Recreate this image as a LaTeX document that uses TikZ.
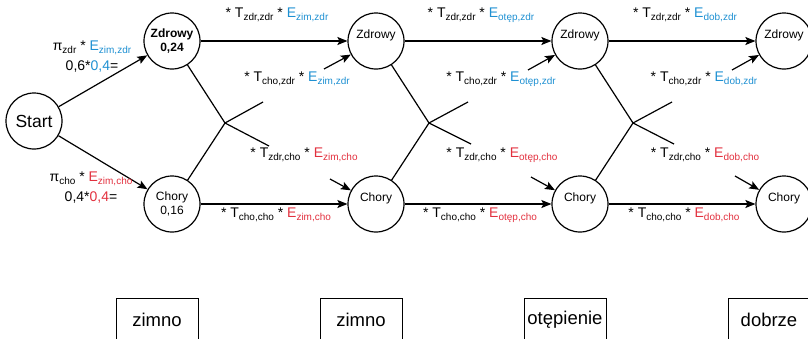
\documentclass[tikz,border=0pt]{standalone}
\usepackage{fontspec}
\setmainfont{Liberation Sans}
\usetikzlibrary{arrows.meta}
\definecolor{eblue}{RGB}{30,144,210}
\definecolor{ered}{RGB}{226,48,62}
\newcommand{\idx}[1]{\raisebox{-3pt}{\fontsize{10}{10}\selectfont #1}}
\newcommand{\Ezd}[1]{\textcolor{eblue}{E\idx{#1,zdr}}}
\newcommand{\Ech}[1]{\textcolor{ered}{E\idx{#1,cho}}}
\tikzset{
  state/.style={circle, draw, line width=1.2pt, minimum size=56pt, inner sep=0pt,
    align=center, font=\fontsize{12}{14}\selectfont},
  obs/.style={rectangle, draw, line width=1pt, minimum width=82pt, minimum height=44pt,
    font=\fontsize{18.5}{20}\selectfont},
  lbl/.style={inner sep=0pt, anchor=base, font=\fontsize{14}{14}\selectfont},
  prior/.style={inner sep=0pt, align=center, font=\fontsize{14}{16}\selectfont},
}

\begin{document}
\begin{tikzpicture}[x=1pt, y=-1pt, line width=1.2pt,
    >={Stealth[length=10pt, width=8pt, inset=2pt]}]
  \def\xsep{204}
  \def\xa{172}
  \def\ytop{41}
  \def\ybot{204}
  \useasboundingbox (0,0) rectangle (808,338);

  \node[state, font=\fontsize{17.5}{19}\selectfont] (start) at (34,121) {Start};

  \node[state, font=\fontsize{12}{14}\selectfont\bfseries] (z1) at ({\xa+0*\xsep}, \ytop) {Zdrowy\\0,24};
  \node[state] (c1) at ({\xa+0*\xsep}, \ybot) {Chory\\0,16};
  \node[state] (z2) at ({\xa+1*\xsep}, \ytop) {Zdrowy\\\phantom{0}};
  \node[state] (c2) at ({\xa+1*\xsep}, \ybot) {Chory\\\phantom{0}};
  \node[state] (z3) at ({\xa+2*\xsep}, \ytop) {Zdrowy\\\phantom{0}};
  \node[state] (c3) at ({\xa+2*\xsep}, \ybot) {Chory\\\phantom{0}};
  \node[state] (z4) at ({\xa+3*\xsep}, \ytop) {Zdrowy\\\phantom{0}};
  \node[state] (c4) at ({\xa+3*\xsep}, \ybot) {Chory\\\phantom{0}};

  % observations
  \node[obs] (o1) at ({\xa-15+0*\xsep}, 320) {zimno};
  \node[obs] (o2) at ({\xa-15+1*\xsep}, 320) {zimno};
  \node[obs] (o3) at ({\xa-15+2*\xsep}, 320) {otępienie};
  \node[obs] (o4) at ({\xa-15+3*\xsep}, 320) {dobrze};

  % start
  \draw[->] (start) edge (z1);
  \draw[->] (start) edge (c1);
  \node[prior] (pz) at (92,57) {π\idx{zdr} * \Ezd{zim}\\[4pt]0,6*\textcolor{eblue}{0,4}=};
  \node[prior] (pc) at (91,188) {π\idx{cho} * \Ech{zim}\\[4pt]0,4*\textcolor{ered}{0,4}=};

  % crossings
  \coordinate (x1) at ({\xa+53+0*\xsep}, 123);
  \coordinate (x2) at ({\xa+53+1*\xsep}, 123);
  \coordinate (x3) at ({\xa+53+2*\xsep}, 123);
  \coordinate (x1u) at ({\xa+91+0*\xsep}, 102);
  \coordinate (x2u) at ({\xa+92+1*\xsep}, 102);
  \coordinate (x3u) at ({\xa+92+2*\xsep}, 102);
  \coordinate (x1d) at ({\xa+97+0*\xsep}, 146);
  \coordinate (x2d) at ({\xa+95+1*\xsep}, 144);
  \coordinate (x3d) at ({\xa+94+2*\xsep}, 144);
  \coordinate (a1u) at ({\xa+152+0*\xsep}, 69);
  \coordinate (a2u) at ({\xa+152+1*\xsep}, 70);
  \coordinate (a3u) at ({\xa+152+2*\xsep}, 70);
  \coordinate (a1d) at ({\xa+158+0*\xsep}, 179);
  \coordinate (a2d) at ({\xa+155+1*\xsep}, 177);
  \coordinate (a3d) at ({\xa+155+2*\xsep}, 176);

  \draw[->] (z1) edge (z2);
  \draw[->] (c1) edge (c2);
  \draw (z1) -- (x1) -- (x1d);
  \draw (c1) -- (x1) -- (x1u);
  \draw[->] (a1u) -- (z2);
  \draw[->] (a1d) -- (c2);

  \draw[->] (z2) edge (z3);
  \draw[->] (c2) edge (c3);
  \draw (z2) -- (x2) -- (x2d);
  \draw (c2) -- (x2) -- (x2u);
  \draw[->] (a2u) -- (z3);
  \draw[->] (a2d) -- (c3);

  \draw[->] (z3) edge (z4);
  \draw[->] (c3) edge (c4);
  \draw (z3) -- (x3) -- (x3d);
  \draw (c3) -- (x3) -- (x3u);
  \draw[->] (a3u) -- (z4);
  \draw[->] (a3d) -- (c4);

  % transition labels
  \node[lbl] (tzz1) at (277,17) {* T\idx{zdr,zdr} * \Ezd{zim}};
  \node[lbl] (tcz1) at (297,81) {* T\idx{cho,zdr} * \Ezd{zim}};
  \node[lbl] (tzc1) at (304,157) {* T\idx{zdr,cho} * \Ech{zim}};
  \node[lbl] (tcc1) at (276,217) {* T\idx{cho,cho} * \Ech{zim}};

  \node[lbl] (tzz2) at (481,17) {* T\idx{zdr,zdr} * \Ezd{otęp}};
  \node[lbl] (tcz2) at (501,81) {* T\idx{cho,zdr} * \Ezd{otęp}};
  \node[lbl] (tzc2) at (502,157) {* T\idx{zdr,cho} * \Ech{otęp}};
  \node[lbl] (tcc2) at (480,217) {* T\idx{cho,cho} * \Ech{otęp}};

  \node[lbl] (tzz3) at (685,17) {* T\idx{zdr,zdr} * \Ezd{dob}};
  \node[lbl] (tcz3) at (704,81) {* T\idx{cho,zdr} * \Ezd{dob}};
  \node[lbl] (tzc3) at (705,157) {* T\idx{zdr,cho} * \Ech{dob}};
  \node[lbl] (tcc3) at (684,217) {* T\idx{cho,cho} * \Ech{dob}};
\end{tikzpicture}
\end{document}
